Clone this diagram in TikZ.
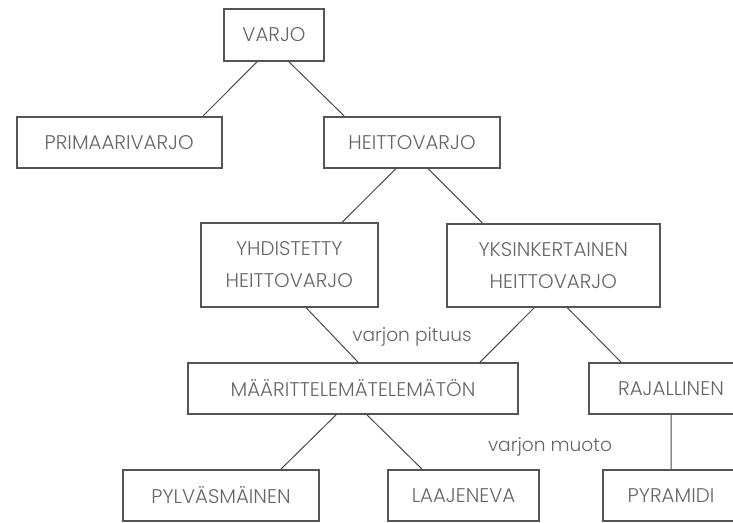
\documentclass[tikz,border=0pt]{standalone}
\usepackage{fontspec}
\setmainfont{Poppins}[UprightFont={* Light}]
\definecolor{boxgray}{HTML}{555555}
\definecolor{txtgray}{HTML}{666666}
\definecolor{linegray}{HTML}{4A4A4A}
\tikzset{
    box/.style = {draw=boxgray, line width=1.8pt, text=txtgray, align=center,
        inner sep=0pt, minimum height=51pt, font=\fontsize{19.8}{32}\selectfont},
    lbl/.style = {text=txtgray, font=\fontsize{18.6}{22}\selectfont},
    link/.style = {draw=linegray, line width=1pt}
}

\begin{document}
\begin{tikzpicture}[x=1pt, y=-1pt]
    \useasboundingbox (0,0) rectangle (733,522);
    \node[box, minimum width=100pt, minimum height=52pt] (varjo) at (274,35) {VARJO};
    \node[box, minimum width=205pt] (primaari) at (119.2,142.2) {PRIMAARIVARJO};
    \node[box, minimum width=176pt] (heitto) at (412,142.2) {HEITTOVARJO};
    \node[box, minimum width=177pt, minimum height=84pt] (yhd) at (289.3,265) {YHDISTETTY\\HEITTOVARJO};
    \node[box, minimum width=213pt, minimum height=83pt] (yksin) at (553.3,265.3) {YKSINKERTAINEN\\HEITTOVARJO};
    \node[box, minimum width=330pt] (maar) at (353,388.5) {MÄÄRITTELEMÄTELEMÄTÖN};
    \node[box, minimum width=164pt] (raj) at (671,388.5) {RAJALLINEN};
    \node[box, minimum width=196pt] (pylv) at (221,495.5) {PYLVÄSMÄINEN};
    \node[box, minimum width=151pt] (laaj) at (463.5,495.5) {LAAJENEVA};
    \node[box, minimum width=136pt] (pyr) at (671,495.5) {PYRAMIDI};
    \node[lbl] (pituus) at (412,337) {varjon pituus};
    \node[lbl] (muoto) at (550,447) {varjon muoto};

    \draw[link] ([xshift=-17pt]varjo.south) -- ([xshift=84pt]primaari.north)
                ([xshift=15pt]varjo.south) -- ([xshift=-68pt]heitto.north)
                ([xshift=-16pt]heitto.south) -- ([xshift=53pt]yhd.north)
                ([xshift=16pt]heitto.south) -- ([xshift=-71pt]yksin.north)
                ([xshift=17pt]yhd.south) -- ([xshift=5pt]maar.north)
                ([xshift=-19pt]yksin.south) -- ([xshift=127pt]maar.north)
                ([xshift=14pt]yksin.south) -- ([xshift=-50pt]raj.north)
                ([xshift=-17pt]maar.south) -- ([xshift=60pt]pylv.north)
                ([xshift=14pt]maar.south) -- ([xshift=-41.5pt]laaj.north)
                (raj.south) -- (pyr.north);
\end{tikzpicture}
\end{document}
